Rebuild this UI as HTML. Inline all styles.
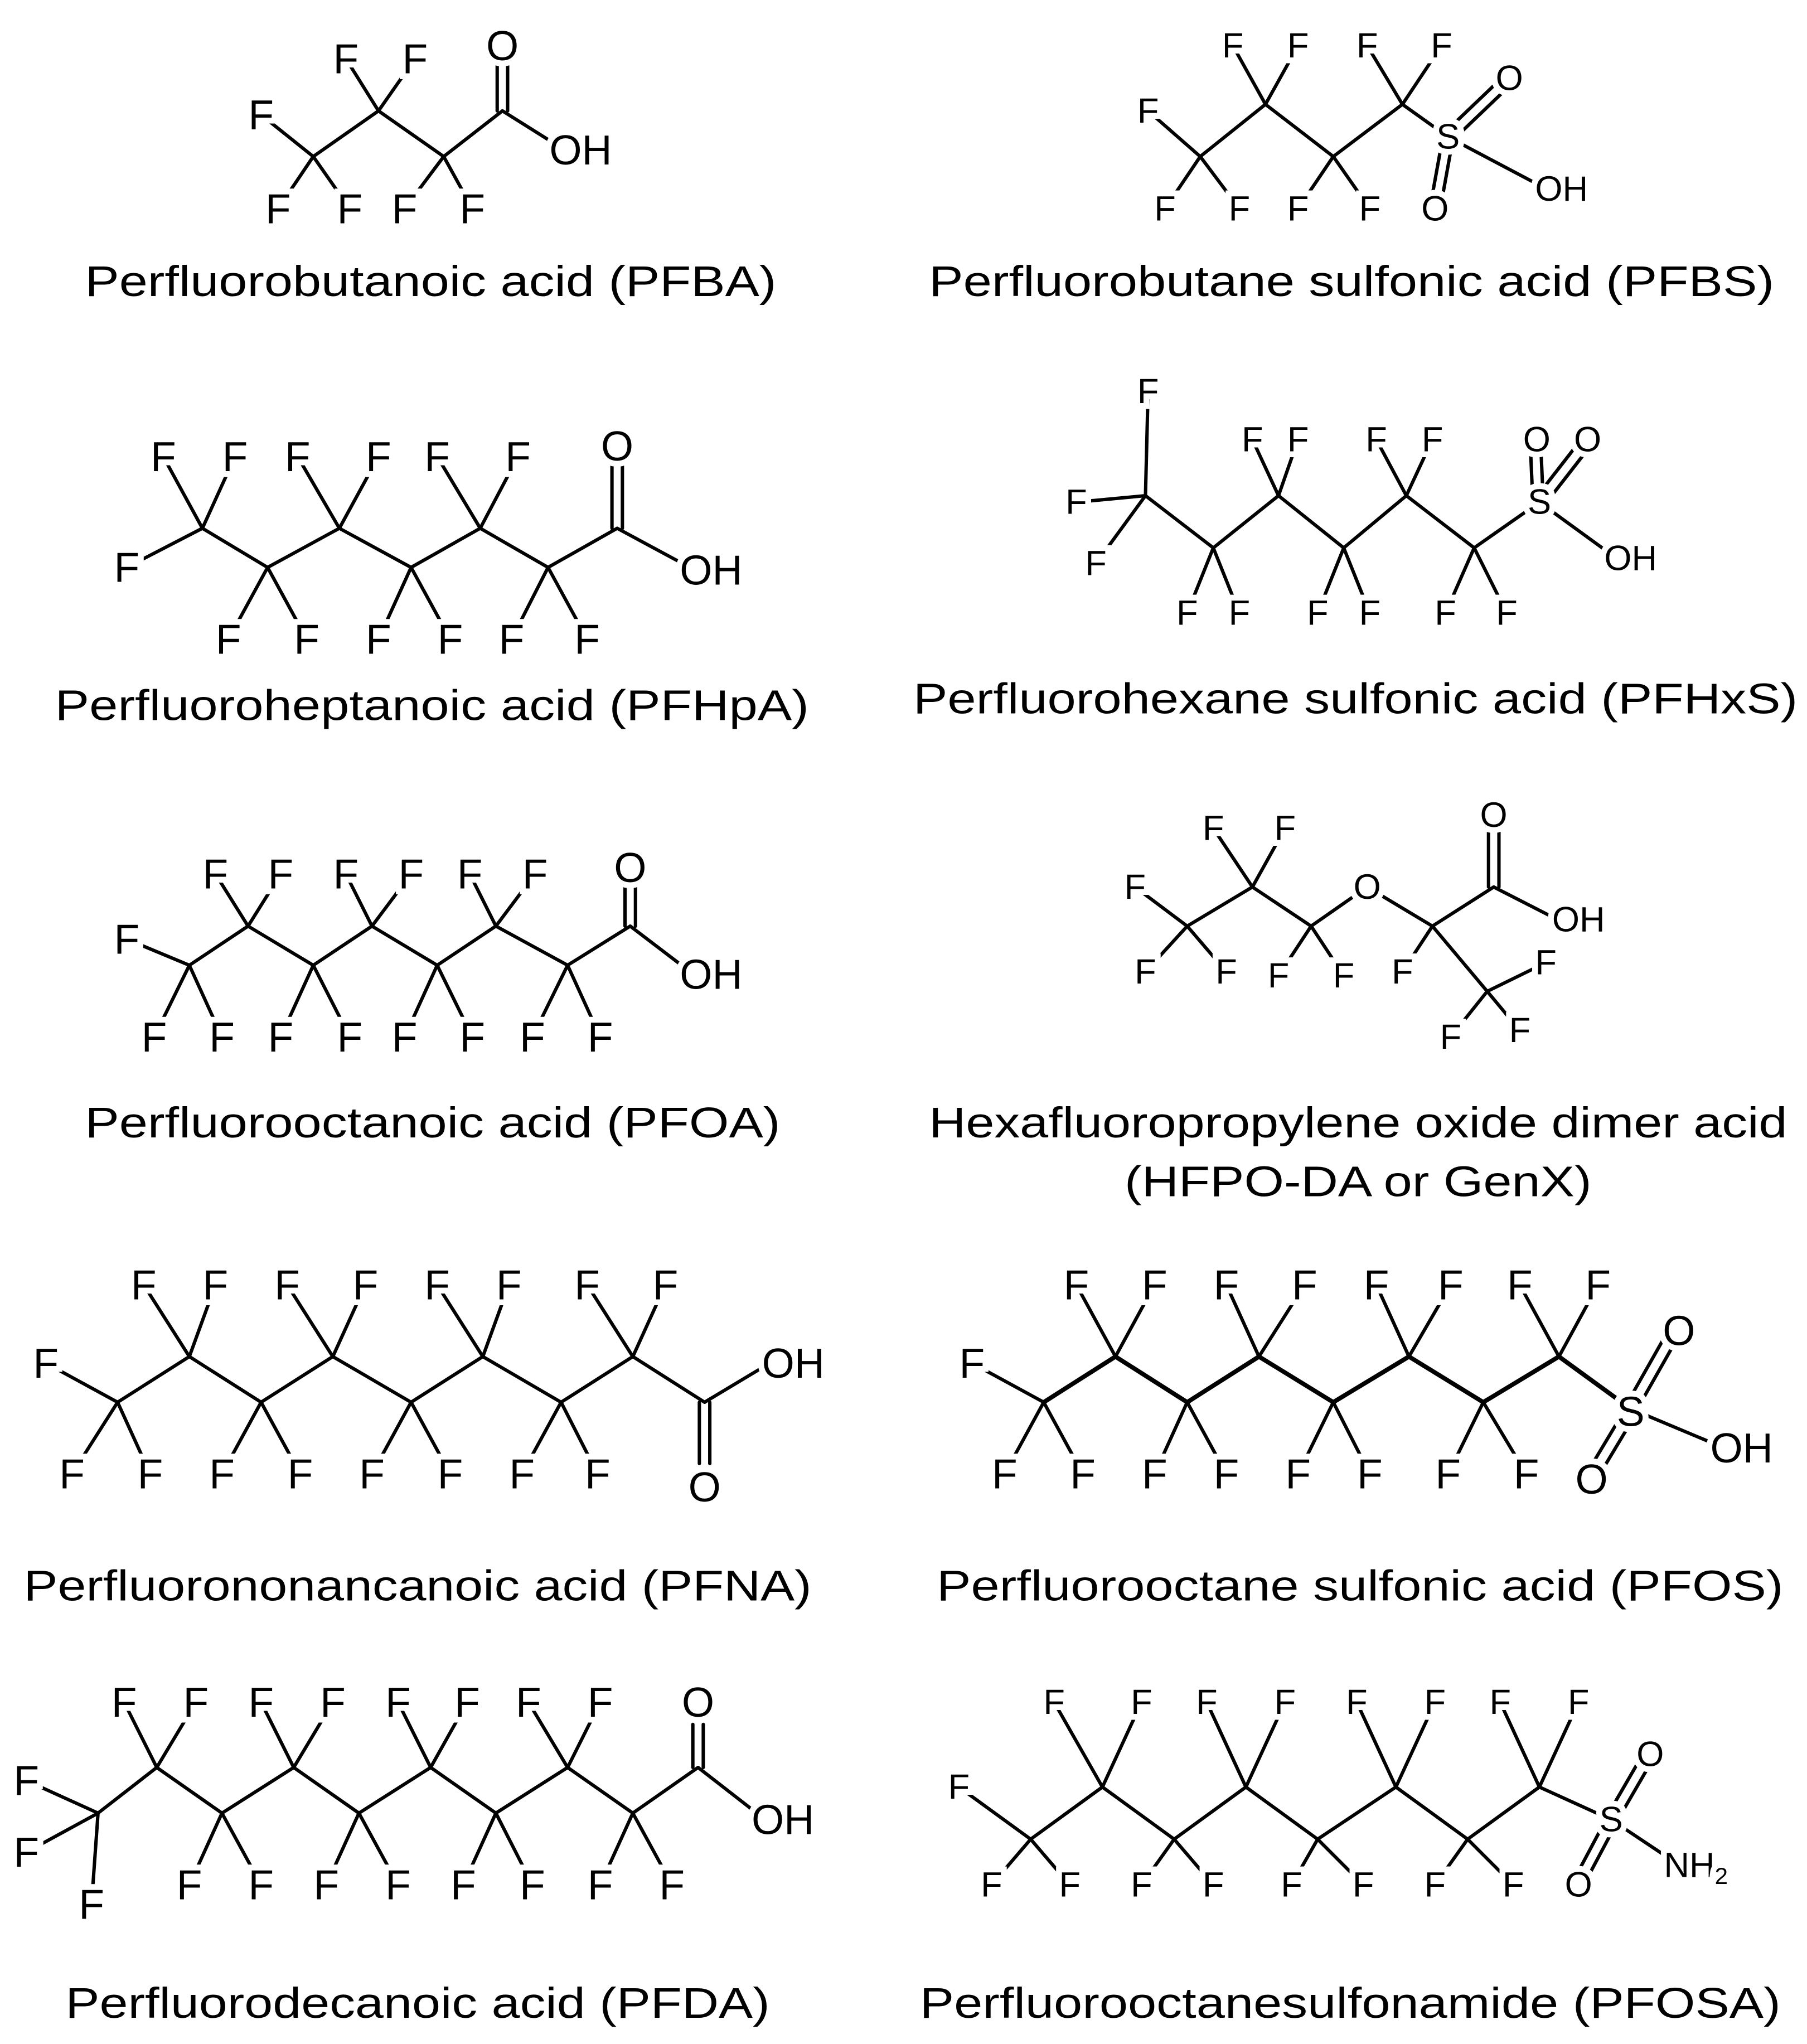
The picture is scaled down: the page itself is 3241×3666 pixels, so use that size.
<!DOCTYPE html>
<html><head><meta charset="utf-8"><style>
html,body{margin:0;padding:0;background:#fff;}
svg{display:block;}
.b line,.b polyline{stroke:#000;stroke-width:2.6;fill:none;stroke-linecap:round;stroke-linejoin:round;}
.a text{font-family:"Liberation Sans",sans-serif;font-size:32px;text-anchor:middle;dominant-baseline:central;fill:#000;stroke:#fff;stroke-width:9px;paint-order:stroke;}
.s text{font-size:27px;}
.n text{font-family:"Liberation Sans",sans-serif;font-size:33px;fill:#000;}
.c circle{fill:#fff;}
</style></head><body>
<svg width="3241" height="3666" viewBox="0 0 1385 1567" xmlns="http://www.w3.org/2000/svg">
<rect width="1385" height="1567" fill="#fff"/>

<!-- PFBA -->
<g class="b">
<polyline points="240,120 290,85 340,120 385,85"/>
<line x1="240" y1="120" x2="200" y2="88"/><line x1="240" y1="120" x2="213" y2="160"/><line x1="240" y1="120" x2="268" y2="160"/>
<line x1="290" y1="85" x2="265" y2="45"/><line x1="290" y1="85" x2="318" y2="45"/>
<line x1="340" y1="120" x2="310" y2="160"/><line x1="340" y1="120" x2="362" y2="160"/>
<line x1="381" y1="85" x2="381" y2="45"/><line x1="389" y1="85" x2="389" y2="45"/>
<line x1="385" y1="85" x2="428" y2="112"/>
</g>

<!-- PFBS -->
<g class="b">
<polyline points="920,120 970,80 1022,120 1075,80 1110,105"/>
<line x1="920" y1="120" x2="880" y2="85"/><line x1="920" y1="120" x2="893" y2="160"/><line x1="920" y1="120" x2="950" y2="160"/>
<line x1="970" y1="80" x2="945" y2="35"/><line x1="970" y1="80" x2="995" y2="35"/>
<line x1="1022" y1="120" x2="995" y2="160"/><line x1="1022" y1="120" x2="1050" y2="160"/>
<line x1="1075" y1="80" x2="1048" y2="35"/><line x1="1075" y1="80" x2="1105" y2="35"/>
<line x1="1107" y1="102" x2="1152" y2="59"/><line x1="1113" y1="108" x2="1158" y2="65"/>
<line x1="1106" y1="105" x2="1096" y2="160"/><line x1="1114" y1="105" x2="1104" y2="160"/>
<line x1="1110" y1="105" x2="1180" y2="142"/>
</g>

<!-- PFHpA -->
<g class="b">
<polyline points="155,405 205,435 260,405 315,435 368,405 420,435 473,405"/>
<line x1="155" y1="405" x2="97" y2="435"/><line x1="155" y1="405" x2="125" y2="350"/><line x1="155" y1="405" x2="180" y2="350"/>
<line x1="205" y1="435" x2="175" y2="490"/><line x1="205" y1="435" x2="235" y2="490"/>
<line x1="260" y1="405" x2="228" y2="350"/><line x1="260" y1="405" x2="290" y2="350"/>
<line x1="315" y1="435" x2="290" y2="490"/><line x1="315" y1="435" x2="345" y2="490"/>
<line x1="368" y1="405" x2="335" y2="350"/><line x1="368" y1="405" x2="397" y2="350"/>
<line x1="420" y1="435" x2="392" y2="490"/><line x1="420" y1="435" x2="450" y2="490"/>
<line x1="469" y1="405" x2="469" y2="355"/><line x1="477" y1="405" x2="477" y2="355"/>
<line x1="473" y1="405" x2="525" y2="433"/>
</g>

<!-- PFHxS -->
<g class="b">
<polyline points="878,380 930,420 980,380 1030,420 1078,380 1130,420 1180,385"/>
<line x1="878" y1="380" x2="880" y2="300"/><line x1="878" y1="380" x2="825" y2="385"/><line x1="878" y1="380" x2="840" y2="432"/>
<line x1="930" y1="420" x2="910" y2="470"/><line x1="930" y1="420" x2="950" y2="470"/>
<line x1="980" y1="380" x2="960" y2="337"/><line x1="980" y1="380" x2="995" y2="337"/>
<line x1="1030" y1="420" x2="1010" y2="470"/><line x1="1030" y1="420" x2="1050" y2="470"/>
<line x1="1078" y1="380" x2="1055" y2="337"/><line x1="1078" y1="380" x2="1098" y2="337"/>
<line x1="1130" y1="420" x2="1108" y2="470"/><line x1="1130" y1="420" x2="1155" y2="470"/>
<line x1="1175" y1="385" x2="1173" y2="340"/><line x1="1183" y1="385" x2="1181" y2="340"/>
<line x1="1177" y1="382" x2="1212" y2="337"/><line x1="1184" y1="387" x2="1219" y2="342"/>
<line x1="1180" y1="385" x2="1235" y2="425"/>
</g>

<!-- PFOA -->
<g class="b">
<polyline points="145,740 190,710 240,740 285,710 335,740 380,710 435,740 483,710"/>
<line x1="145" y1="740" x2="97" y2="720"/><line x1="145" y1="740" x2="118" y2="795"/><line x1="145" y1="740" x2="170" y2="795"/>
<line x1="190" y1="710" x2="165" y2="670"/><line x1="190" y1="710" x2="215" y2="670"/>
<line x1="240" y1="740" x2="215" y2="795"/><line x1="240" y1="740" x2="268" y2="795"/>
<line x1="285" y1="710" x2="265" y2="670"/><line x1="285" y1="710" x2="315" y2="670"/>
<line x1="335" y1="740" x2="310" y2="795"/><line x1="335" y1="740" x2="362" y2="795"/>
<line x1="380" y1="710" x2="360" y2="670"/><line x1="380" y1="710" x2="410" y2="670"/>
<line x1="435" y1="740" x2="408" y2="795"/><line x1="435" y1="740" x2="460" y2="795"/>
<line x1="479" y1="710" x2="479" y2="675"/><line x1="487" y1="710" x2="487" y2="675"/>
<line x1="483" y1="710" x2="525" y2="742"/>
</g>

<!-- GenX -->
<g class="b">
<polyline points="910,710 960,680 1005,710 1048,680 1098,710 1145,680"/>
<line x1="1098" y1="710" x2="1140" y2="760"/>
<line x1="910" y1="710" x2="870" y2="680"/><line x1="910" y1="710" x2="878" y2="745"/><line x1="910" y1="710" x2="940" y2="745"/>
<line x1="960" y1="680" x2="930" y2="635"/><line x1="960" y1="680" x2="985" y2="635"/>
<line x1="1005" y1="710" x2="980" y2="748"/><line x1="1005" y1="710" x2="1030" y2="748"/>
<line x1="1098" y1="710" x2="1075" y2="745"/>
<line x1="1140" y1="760" x2="1185" y2="738"/><line x1="1140" y1="760" x2="1112" y2="795"/><line x1="1140" y1="760" x2="1165" y2="790"/>
<line x1="1141" y1="680" x2="1141" y2="638"/><line x1="1149" y1="680" x2="1149" y2="638"/>
<line x1="1145" y1="680" x2="1190" y2="703"/>
</g>

<!-- PFNA -->
<g class="b">
<polyline points="90,1075 145,1040 200,1075 255,1040 315,1075 370,1040 430,1075 485,1040 540,1075"/>
<line x1="90" y1="1075" x2="35" y2="1045"/><line x1="90" y1="1075" x2="55" y2="1130"/><line x1="90" y1="1075" x2="115" y2="1130"/>
<line x1="145" y1="1040" x2="110" y2="985"/><line x1="145" y1="1040" x2="165" y2="985"/>
<line x1="200" y1="1075" x2="170" y2="1130"/><line x1="200" y1="1075" x2="230" y2="1130"/>
<line x1="255" y1="1040" x2="220" y2="985"/><line x1="255" y1="1040" x2="280" y2="985"/>
<line x1="315" y1="1075" x2="285" y2="1130"/><line x1="315" y1="1075" x2="345" y2="1130"/>
<line x1="370" y1="1040" x2="335" y2="985"/><line x1="370" y1="1040" x2="390" y2="985"/>
<line x1="430" y1="1075" x2="400" y2="1130"/><line x1="430" y1="1075" x2="458" y2="1130"/>
<line x1="485" y1="1040" x2="450" y2="985"/><line x1="485" y1="1040" x2="510" y2="985"/>
<line x1="536" y1="1075" x2="536" y2="1122"/><line x1="544" y1="1075" x2="544" y2="1122"/>
<line x1="540" y1="1075" x2="585" y2="1048"/>
</g>

<!-- PFOS -->
<g class="b">
<polyline style="stroke-width:3.4" points="800,1075 855,1040 910,1075 965,1040 1022,1075 1080,1040 1137,1075 1195,1040 1250,1080"/>
<g style="stroke-width:3.2">
<line x1="800" y1="1075" x2="745" y2="1045"/><line x1="800" y1="1075" x2="770" y2="1130"/><line x1="800" y1="1075" x2="830" y2="1130"/>
<line x1="855" y1="1040" x2="825" y2="985"/><line x1="855" y1="1040" x2="885" y2="985"/>
<line x1="910" y1="1075" x2="885" y2="1130"/><line x1="910" y1="1075" x2="940" y2="1130"/>
<line x1="965" y1="1040" x2="940" y2="985"/><line x1="965" y1="1040" x2="1000" y2="985"/>
<line x1="1022" y1="1075" x2="995" y2="1130"/><line x1="1022" y1="1075" x2="1050" y2="1130"/>
<line x1="1080" y1="1040" x2="1055" y2="985"/><line x1="1080" y1="1040" x2="1112" y2="985"/>
<line x1="1137" y1="1075" x2="1110" y2="1130"/><line x1="1137" y1="1075" x2="1170" y2="1130"/>
<line x1="1195" y1="1040" x2="1165" y2="985"/><line x1="1195" y1="1040" x2="1225" y2="985"/>
<line x1="1246" y1="1078" x2="1280" y2="1018"/><line x1="1254" y1="1082" x2="1288" y2="1022"/>
<line x1="1246" y1="1080" x2="1216" y2="1130"/><line x1="1254" y1="1084" x2="1224" y2="1134"/>
<line x1="1250" y1="1080" x2="1312" y2="1106"/>
</g>
</g>

<!-- PFDA -->
<g class="b">
<polyline points="75,1390 120,1355 170,1390 225,1355 275,1390 330,1355 380,1390 435,1355 485,1390 535,1355"/>
<line x1="75" y1="1390" x2="20" y2="1365"/><line x1="75" y1="1390" x2="20" y2="1420"/><line x1="75" y1="1390" x2="70" y2="1460"/>
<line x1="120" y1="1355" x2="95" y2="1305"/><line x1="120" y1="1355" x2="150" y2="1305"/>
<line x1="170" y1="1390" x2="145" y2="1445"/><line x1="170" y1="1390" x2="200" y2="1445"/>
<line x1="225" y1="1355" x2="200" y2="1305"/><line x1="225" y1="1355" x2="255" y2="1305"/>
<line x1="275" y1="1390" x2="250" y2="1445"/><line x1="275" y1="1390" x2="305" y2="1445"/>
<line x1="330" y1="1355" x2="305" y2="1305"/><line x1="330" y1="1355" x2="358" y2="1305"/>
<line x1="380" y1="1390" x2="355" y2="1445"/><line x1="380" y1="1390" x2="408" y2="1445"/>
<line x1="435" y1="1355" x2="405" y2="1305"/><line x1="435" y1="1355" x2="460" y2="1305"/>
<line x1="485" y1="1390" x2="460" y2="1445"/><line x1="485" y1="1390" x2="515" y2="1445"/>
<line x1="531" y1="1355" x2="531" y2="1322"/><line x1="539" y1="1355" x2="539" y2="1322"/>
<line x1="535" y1="1355" x2="580" y2="1390"/>
</g>

<!-- PFOSA -->
<g class="b">
<polyline points="790,1410 845,1370 900,1410 955,1370 1010,1410 1070,1370 1125,1410 1180,1370 1235,1395"/>
<line x1="790" y1="1410" x2="735" y2="1370"/><line x1="790" y1="1410" x2="760" y2="1445"/><line x1="790" y1="1410" x2="820" y2="1445"/>
<line x1="845" y1="1370" x2="808" y2="1305"/><line x1="845" y1="1370" x2="875" y2="1305"/>
<line x1="900" y1="1410" x2="875" y2="1445"/><line x1="900" y1="1410" x2="930" y2="1445"/>
<line x1="955" y1="1370" x2="925" y2="1305"/><line x1="955" y1="1370" x2="985" y2="1305"/>
<line x1="1010" y1="1410" x2="990" y2="1445"/><line x1="1010" y1="1410" x2="1045" y2="1445"/>
<line x1="1070" y1="1370" x2="1040" y2="1305"/><line x1="1070" y1="1370" x2="1100" y2="1305"/>
<line x1="1125" y1="1410" x2="1100" y2="1445"/><line x1="1125" y1="1410" x2="1160" y2="1445"/>
<line x1="1180" y1="1370" x2="1150" y2="1305"/><line x1="1180" y1="1370" x2="1210" y2="1305"/>
<line x1="1232" y1="1392" x2="1261" y2="1342"/><line x1="1239" y1="1397" x2="1268" y2="1347"/>
<line x1="1231" y1="1395" x2="1206" y2="1442"/><line x1="1239" y1="1398" x2="1214" y2="1445"/>
<line x1="1235" y1="1395" x2="1280" y2="1425"/>
</g>

<!-- white discs under O / S labels -->
<g class="c">
<circle cx="385" cy="35" r="12"/>
<circle cx="1110" cy="105" r="10"/><circle cx="1157" cy="60" r="10"/><circle cx="1100" cy="160" r="10"/>
<circle cx="473" cy="342" r="12"/>
<circle cx="1180" cy="385" r="10"/><circle cx="1178" cy="337" r="10"/><circle cx="1217" cy="337" r="10"/>
<circle cx="483" cy="665" r="12"/>
<circle cx="1048" cy="680" r="11"/><circle cx="1145" cy="625" r="10"/>
<circle cx="540" cy="1140" r="12"/>
<circle cx="1250" cy="1082" r="12"/><circle cx="1287" cy="1020" r="12"/><circle cx="1220" cy="1134" r="12"/>
<circle cx="535" cy="1305" r="12"/>
<circle cx="1235" cy="1395" r="10"/><circle cx="1265" cy="1345" r="10"/><circle cx="1210" cy="1445" r="10"/>
</g>

<!-- Atom labels -->
<g class="a">
<text x="200" y="88">F</text><text x="213" y="160">F</text><text x="268" y="160">F</text>
<text x="265" y="45">F</text><text x="318" y="45">F</text><text x="310" y="160">F</text><text x="362" y="160">F</text>
<text x="385" y="35">O</text><text x="445" y="115">OH</text>
</g>
<g class="a s">
<text x="880" y="85">F</text><text x="893" y="160">F</text><text x="950" y="160">F</text>
<text x="945" y="35">F</text><text x="995" y="35">F</text><text x="995" y="160">F</text><text x="1050" y="160">F</text>
<text x="1048" y="35">F</text><text x="1105" y="35">F</text>
<text x="1110" y="105">S</text><text x="1157" y="60">O</text><text x="1100" y="160">O</text><text x="1197" y="145">OH</text>
</g>
<g class="a">
<text x="97" y="435">F</text><text x="125" y="350">F</text><text x="180" y="350">F</text>
<text x="175" y="490">F</text><text x="235" y="490">F</text><text x="228" y="350">F</text><text x="290" y="350">F</text>
<text x="290" y="490">F</text><text x="345" y="490">F</text><text x="335" y="350">F</text><text x="397" y="350">F</text>
<text x="392" y="490">F</text><text x="450" y="490">F</text>
<text x="473" y="342">O</text><text x="545" y="437">OH</text>
</g>
<g class="a s">
<text x="880" y="300">F</text><text x="825" y="385">F</text><text x="840" y="432">F</text>
<text x="910" y="470">F</text><text x="950" y="470">F</text><text x="960" y="337">F</text><text x="995" y="337">F</text>
<text x="1010" y="470">F</text><text x="1050" y="470">F</text><text x="1055" y="337">F</text><text x="1098" y="337">F</text>
<text x="1108" y="470">F</text><text x="1155" y="470">F</text>
<text x="1180" y="385">S</text><text x="1178" y="337">O</text><text x="1217" y="337">O</text><text x="1250" y="428">OH</text>
</g>
<g class="a">
<text x="97" y="720">F</text><text x="118" y="795">F</text><text x="170" y="795">F</text>
<text x="165" y="670">F</text><text x="215" y="670">F</text><text x="215" y="795">F</text><text x="268" y="795">F</text>
<text x="265" y="670">F</text><text x="315" y="670">F</text><text x="310" y="795">F</text><text x="362" y="795">F</text>
<text x="360" y="670">F</text><text x="410" y="670">F</text><text x="408" y="795">F</text><text x="460" y="795">F</text>
<text x="483" y="665">O</text><text x="545" y="747">OH</text>
</g>
<g class="a s">
<text x="870" y="680">F</text><text x="878" y="745">F</text><text x="940" y="745">F</text>
<text x="930" y="635">F</text><text x="985" y="635">F</text><text x="980" y="748">F</text><text x="1030" y="748">F</text>
<text x="1048" y="680">O</text><text x="1075" y="745">F</text>
<text x="1185" y="738">F</text><text x="1112" y="795">F</text><text x="1165" y="790">F</text>
<text x="1145" y="625">O</text><text x="1210" y="705">OH</text>
</g>
<g class="a">
<text x="35" y="1045">F</text><text x="55" y="1130">F</text><text x="115" y="1130">F</text>
<text x="110" y="985">F</text><text x="165" y="985">F</text><text x="170" y="1130">F</text><text x="230" y="1130">F</text>
<text x="220" y="985">F</text><text x="280" y="985">F</text><text x="285" y="1130">F</text><text x="345" y="1130">F</text>
<text x="335" y="985">F</text><text x="390" y="985">F</text><text x="400" y="1130">F</text><text x="458" y="1130">F</text>
<text x="450" y="985">F</text><text x="510" y="985">F</text>
<text x="540" y="1140">O</text><text x="608" y="1045">OH</text>
</g>
<g class="a">
<text x="745" y="1045">F</text><text x="770" y="1130">F</text><text x="830" y="1130">F</text>
<text x="825" y="985">F</text><text x="885" y="985">F</text><text x="885" y="1130">F</text><text x="940" y="1130">F</text>
<text x="940" y="985">F</text><text x="1000" y="985">F</text><text x="995" y="1130">F</text><text x="1050" y="1130">F</text>
<text x="1055" y="985">F</text><text x="1112" y="985">F</text><text x="1110" y="1130">F</text><text x="1170" y="1130">F</text>
<text x="1165" y="985">F</text><text x="1225" y="985">F</text>
<text x="1250" y="1082">S</text><text x="1287" y="1020">O</text><text x="1220" y="1134">O</text><text x="1335" y="1110">OH</text>
</g>
<g class="a">
<text x="20" y="1365">F</text><text x="20" y="1420">F</text><text x="70" y="1460">F</text>
<text x="95" y="1305">F</text><text x="150" y="1305">F</text><text x="145" y="1445">F</text><text x="200" y="1445">F</text>
<text x="200" y="1305">F</text><text x="255" y="1305">F</text><text x="250" y="1445">F</text><text x="305" y="1445">F</text>
<text x="305" y="1305">F</text><text x="358" y="1305">F</text><text x="355" y="1445">F</text><text x="408" y="1445">F</text>
<text x="405" y="1305">F</text><text x="460" y="1305">F</text><text x="460" y="1445">F</text><text x="515" y="1445">F</text>
<text x="535" y="1305">O</text><text x="600" y="1395">OH</text>
</g>
<g class="a s">
<text x="735" y="1370">F</text><text x="760" y="1445">F</text><text x="820" y="1445">F</text>
<text x="808" y="1305">F</text><text x="875" y="1305">F</text><text x="875" y="1445">F</text><text x="930" y="1445">F</text>
<text x="925" y="1305">F</text><text x="985" y="1305">F</text><text x="990" y="1445">F</text><text x="1045" y="1445">F</text>
<text x="1040" y="1305">F</text><text x="1100" y="1305">F</text><text x="1100" y="1445">F</text><text x="1160" y="1445">F</text>
<text x="1150" y="1305">F</text><text x="1210" y="1305">F</text>
<text x="1235" y="1395">S</text><text x="1265" y="1345">O</text><text x="1210" y="1445">O</text>
<text x="1300" y="1430">NH<tspan font-size="18" dy="8">2</tspan></text>
</g>

<!-- Names -->
<g class="n">
<text x="65" y="227" textLength="530" lengthAdjust="spacingAndGlyphs">Perfluorobutanoic acid (PFBA)</text>
<text x="712" y="227" textLength="648" lengthAdjust="spacingAndGlyphs">Perfluorobutane sulfonic acid (PFBS)</text>
<text x="42" y="552" textLength="578" lengthAdjust="spacingAndGlyphs">Perfluoroheptanoic acid (PFHpA)</text>
<text x="700" y="547" textLength="678" lengthAdjust="spacingAndGlyphs">Perfluorohexane sulfonic acid (PFHxS)</text>
<text x="65" y="872" textLength="533" lengthAdjust="spacingAndGlyphs">Perfluorooctanoic acid (PFOA)</text>
<text x="712" y="872" textLength="658" lengthAdjust="spacingAndGlyphs">Hexafluoropropylene oxide dimer acid</text>
<text x="862" y="917" textLength="358" lengthAdjust="spacingAndGlyphs">(HFPO-DA or GenX)</text>
<text x="18" y="1227" textLength="604" lengthAdjust="spacingAndGlyphs">Perfluorononancanoic acid (PFNA)</text>
<text x="718" y="1227" textLength="649" lengthAdjust="spacingAndGlyphs">Perfluorooctane sulfonic acid (PFOS)</text>
<text x="50" y="1547" textLength="540" lengthAdjust="spacingAndGlyphs">Perfluorodecanoic acid (PFDA)</text>
<text x="705" y="1547" textLength="660" lengthAdjust="spacingAndGlyphs">Perfluorooctanesulfonamide (PFOSA)</text>
</g>
</svg>
</body></html>
